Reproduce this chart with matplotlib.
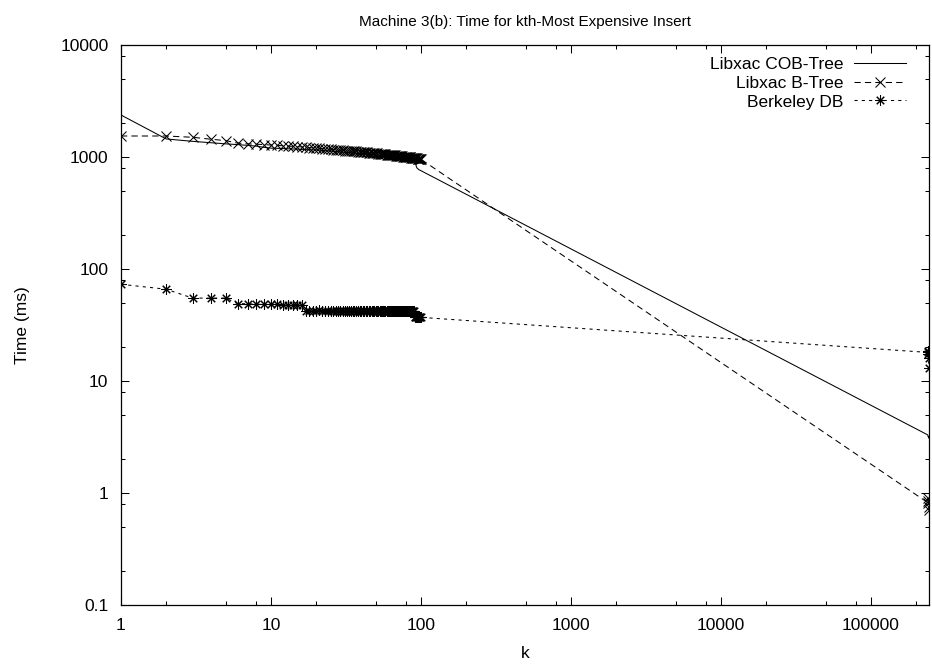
#!/usr/bin/env python3
"""
Machine 3(b): time for the kth-most expensive insert, log-log.
"""

import matplotlib
matplotlib.use("Agg")
import matplotlib.pyplot as plt
from matplotlib.ticker import LogLocator, FixedLocator, NullFormatter


# k = 1..100, then a few points at the very end of the run
K_HEAD = list(range(1, 101))
K_TAIL = [240000, 241000, 242000, 243000, 244000]

COB_HEAD = [
    2370, 1450, 1380, 1340, 1310, 1290, 1270, 1250, 1220, 1200,
    1195, 1190, 1185, 1180, 1175, 1170, 1165, 1160, 1158, 1155,
    1150, 1145, 1140, 1135, 1130, 1125, 1120, 1115, 1110, 1105,
    1100, 1098, 1095, 1092, 1090, 1085, 1080, 1075, 1070, 1065,
    1062, 1060, 1058, 1055, 1052, 1050, 1048, 1046, 1044, 1040,
    1035, 1030, 1028, 1025, 1022, 1020, 1018, 1015, 1012, 1010,
    1008, 1005, 1002, 1000, 998, 995, 992, 990, 988, 985,
    982, 980, 978, 975, 972, 970, 968, 965, 962, 960,
    958, 956, 954, 952, 950, 948, 946, 944, 942, 940,
    938, 900, 830, 800, 790, 780, 770, 765, 760, 755,
]
COB_TAIL = [3.3, 3.2, 3.2, 3.1, 3.1]

BTREE_HEAD = [
    1540, 1540, 1500, 1440, 1400, 1330, 1310, 1300, 1290, 1280,
    1270, 1260, 1250, 1245, 1240, 1230, 1220, 1215, 1205, 1200,
    1195, 1190, 1180, 1175, 1170, 1165, 1160, 1155, 1150, 1145,
    1140, 1135, 1132, 1130, 1128, 1125, 1120, 1118, 1115, 1112,
    1108, 1105, 1100, 1098, 1095, 1090, 1088, 1085, 1082, 1080,
    1075, 1072, 1070, 1066, 1063, 1060, 1058, 1055, 1052, 1050,
    1047, 1045, 1042, 1040, 1037, 1035, 1032, 1030, 1028, 1025,
    1022, 1020, 1018, 1015, 1012, 1010, 1008, 1005, 1002, 1000,
    998, 996, 994, 992, 990, 988, 986, 984, 982, 980,
    978, 975, 972, 970, 968, 965, 962, 960, 958, 955,
]
BTREE_TAIL = [0.82, 0.9, 0.85, 0.75, 0.7]

BDB_HEAD = [
    73, 66, 55, 55, 55, 49, 49, 48.5, 48.5, 48.5,
    48.5, 48, 48, 48, 48, 48, 42.5, 42.5, 42.5, 42.5,
    43, 42.5, 42.5, 42.5, 42.5, 42.5, 42.5, 42.5, 42.5, 42.5,
    42.5, 42.5, 42.5, 42.5, 42.5, 42.5, 42.5, 42.5, 42.5, 42.5,
    42.5, 42.5, 42.5, 42.5, 42.5, 42.5, 42.5, 42.5, 42.5, 42.5,
    42.5, 42.5, 42.5, 42.5, 42.5, 42.5, 42.5, 42.5, 42.5, 42.5,
    42.5, 42.5, 42.5, 42.5, 42.5, 42.5, 42.5, 42.5, 42.5, 42.5,
    42.5, 42.5, 42.5, 42.5, 42.5, 42.5, 42.5, 42.5, 42.5, 42.5,
    42.5, 42.5, 42.5, 42.5, 42.5, 42.5, 42.5, 42.5, 42.5, 42.5,
    37, 37, 37, 37, 37, 37, 37, 37, 37, 37,
]
BDB_TAIL = [18, 18.5, 17.5, 16, 13]

SERIES_LABELS = ["Libxac COB-Tree", "Libxac B-Tree", "Berkeley DB"]
X_TICKS = [1, 10, 100, 1000, 10000, 100000]
Y_TICKS = [0.1, 1, 10, 100, 1000, 10000]

FONT_SIZE = 12.5


def main():
    plt.rcParams["font.family"] = ["Liberation Sans", "DejaVu Sans"]
    plt.rcParams["font.size"] = FONT_SIZE

    fig = plt.figure(figsize=(9.32, 6.65), dpi=100)
    ax = fig.add_axes([121 / 932, 60 / 665, 808 / 932, 560 / 665])

    k = K_HEAD + K_TAIL
    lw = 0.75
    ax.plot(k, COB_HEAD + COB_TAIL, color="black", lw=lw,
            linestyle="-", label=SERIES_LABELS[0])
    ax.plot(k, BTREE_HEAD + BTREE_TAIL, color="black", lw=lw,
            linestyle=(0, (6, 4)), marker="x", ms=6.5, mew=0.75,
            label=SERIES_LABELS[1])
    ax.plot(k, BDB_HEAD + BDB_TAIL, color="black", lw=lw,
            linestyle=(0, (3, 4)), marker=(8, 2, 0), ms=7.5, mew=0.75,
            label=SERIES_LABELS[2])

    ax.set_xscale("log")
    ax.set_yscale("log")
    ax.set_xlim(1, 244500)
    ax.set_ylim(0.1, 10000)

    ax.xaxis.set_major_locator(FixedLocator(X_TICKS))
    ax.yaxis.set_major_locator(FixedLocator(Y_TICKS))
    ax.set_xticklabels([str(t) for t in X_TICKS])
    ax.set_yticklabels(["0.1", "1", "10", "100", "1000", "10000"])
    ax.xaxis.set_minor_locator(LogLocator(base=10, subs=(2, 5, 8), numticks=20))
    ax.yaxis.set_minor_locator(LogLocator(base=10, subs=(2, 5, 8), numticks=20))
    ax.xaxis.set_minor_formatter(NullFormatter())
    ax.yaxis.set_minor_formatter(NullFormatter())

    ax.tick_params(which="both", direction="in", top=True, right=True,
                   width=0.75, labelsize=FONT_SIZE)
    ax.tick_params(which="major", length=5.8, pad=9)
    ax.tick_params(which="minor", length=2.9)
    for spine in ax.spines.values():
        spine.set_linewidth(0.9)

    ax.set_xlabel("k", labelpad=10)
    ax.set_ylabel("Time (ms)", labelpad=22)
    ax.set_title("Machine 3(b): Time for kth-Most Expensive Insert",
                 fontsize=FONT_SIZE * 0.88, pad=14)

    ax.legend(loc="upper right", bbox_to_anchor=(1 - 11 / 808, 1.0),
              frameon=False, markerfirst=False,
              numpoints=1, handlelength=3.0, handletextpad=0.6,
              labelspacing=0.2, borderaxespad=0.3, fontsize=FONT_SIZE)

    fig.savefig("out.png", dpi=100)
    plt.close(fig)


if __name__ == "__main__":
    main()
